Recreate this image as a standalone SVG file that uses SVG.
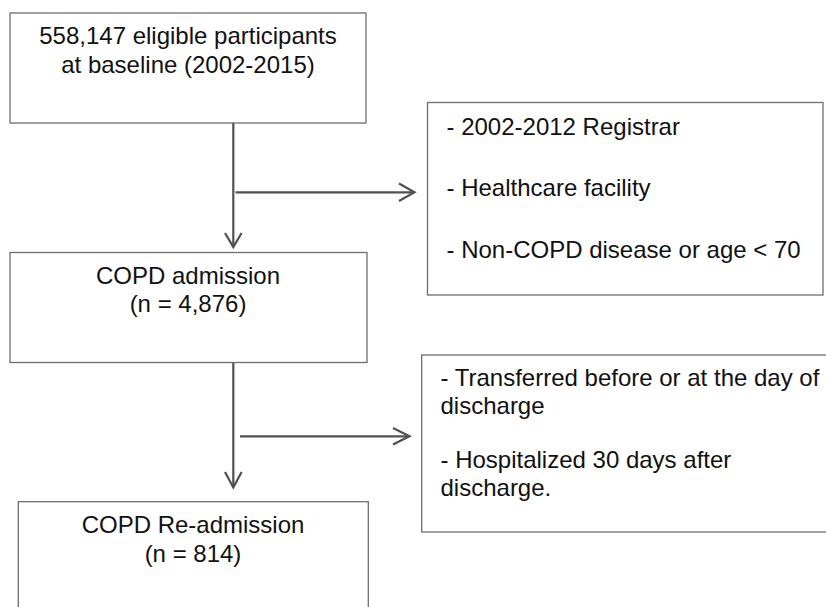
<svg xmlns="http://www.w3.org/2000/svg" width="826" height="607" viewBox="0 0 826 607">
<defs>
<style>
.box{fill:#fff;stroke:#6e6e6e;stroke-width:1.3}
.t{font-family:"Liberation Sans",Arial,sans-serif;font-size:24px;fill:#111}
.c{text-anchor:middle}
.ln{fill:none;stroke:#505050;stroke-width:2.2}
.ah{fill:none;stroke:#505050;stroke-width:2.2;stroke-linejoin:miter}
</style>
</defs>
<rect width="826" height="607" fill="#fff"/>
<g id="n1">
<rect class="box" x="10" y="13" width="356" height="110"/>
<text class="t c" x="188" y="44">558,147 eligible participants</text>
<text class="t c" x="188" y="72.5">at baseline (2002-2015)</text>
</g>
<g id="n2">
<rect class="box" x="427.5" y="102.5" width="395.5" height="192.5"/>
<text class="t" x="446.5" y="135">- 2002-2012 Registrar</text>
<text class="t" x="446.5" y="196">- Healthcare facility</text>
<text class="t" x="446.5" y="257.5">- Non-COPD disease or age &lt; 70</text>
</g>
<g id="n3">
<rect class="box" x="10" y="252.5" width="357" height="110"/>
<text class="t c" x="188" y="283.5">COPD admission</text>
<text class="t c" x="188" y="311.5">(n = 4,876)</text>
</g>
<g id="n4">
<rect class="box" x="421.7" y="355" width="420" height="177"/>
<text class="t" x="440.5" y="386">- Transferred before or at the day of</text>
<text class="t" x="440.5" y="414">discharge</text>
<text class="t" x="440.5" y="468.3">- Hospitalized 30 days after</text>
<text class="t" x="440.5" y="496.3">discharge.</text>
</g>
<g id="n5">
<rect class="box" x="18.3" y="501.7" width="350" height="120"/>
<text class="t c" x="193" y="533.3">COPD Re-admission</text>
<text class="t c" x="193" y="561.5">(n = 814)</text>
</g>
<g id="connectors">
<line class="ln" x1="233.3" y1="123" x2="233.3" y2="246"/>
<polyline class="ah" points="225,233 233.3,247 241.6,233"/>
<line class="ln" x1="235.5" y1="192.3" x2="414" y2="192.3"/>
<polyline class="ah" points="399,183.5 414.5,192.3 399,201"/>
<line class="ln" x1="233.3" y1="363" x2="233.3" y2="487"/>
<polyline class="ah" points="225,472 233.3,487.5 241.6,472"/>
<line class="ln" x1="240" y1="436.3" x2="409" y2="436.3"/>
<polyline class="ah" points="393,428 409.5,436.3 393,444.6"/>
</g>
</svg>
